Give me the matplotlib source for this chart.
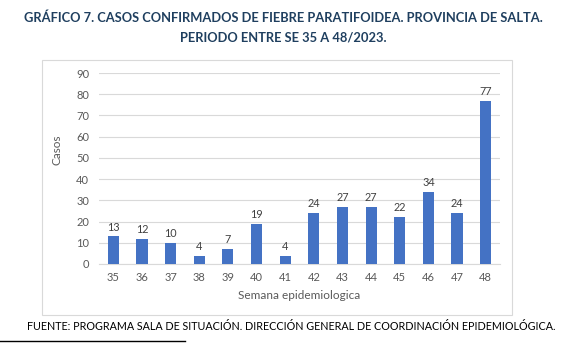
import matplotlib
matplotlib.use("Agg")
import matplotlib.pyplot as plt
from matplotlib.patches import Rectangle
from matplotlib.lines import Line2D

weeks = ["35", "36", "37", "38", "39", "40", "41", "42", "43", "44", "45", "46", "47", "48"]
cases = [13, 12, 10, 4, 7, 19, 4, 24, 27, 27, 22, 34, 24, 77]
yticks = [0, 10, 20, 30, 40, 50, 60, 70, 80, 90]

title = "GRÁFICO 7. CASOS CONFIRMADOS DE FIEBRE PARATIFOIDEA. PROVINCIA DE SALTA.\nPERIODO ENTRE SE 35 A 48/2023."
footer = "FUENTE: PROGRAMA SALA DE SITUACIÓN. DIRECCIÓN GENERAL DE COORDINACIÓN EPIDEMIOLÓGICA."

plt.rcParams['font.family'] = ['Lato', 'DejaVu Sans']

W, H = 567, 348
fig = plt.figure(figsize=(W / 100, H / 100), dpi=100)

def fx(x):
    return x / W

def fy(y):
    return 1 - y / H

# chart box
fig.patches.append(Rectangle((fx(42), fy(315)), fx(512) - fx(42), fy(60) - fy(315),
                             transform=fig.transFigure, fill=False, edgecolor='#D9D9D9', linewidth=0.8))

ax = fig.add_axes([fx(99), fy(264), fx(500) - fx(99), fy(73) - fy(264)])
x = list(range(len(weeks)))
bars = ax.bar(x, cases, width=0.39, color='#4472C4', zorder=3)
for xi, v in zip(x, cases):
    ax.text(xi, v + 1.8, str(v), ha='center', va='bottom', fontsize=7.8, color='#404040')

ax.set_xlim(-0.5, len(weeks) - 0.5)
ax.set_ylim(0, 90)
ax.set_yticks(yticks)
ax.set_xticks(x)
ax.set_xticklabels(weeks)
ax.grid(axis='y', color='#D9D9D9', linewidth=0.8, zorder=0)
for s in ax.spines.values():
    s.set_visible(False)
ax.spines['bottom'].set_visible(True)
ax.spines['bottom'].set_color('#D9D9D9')
ax.tick_params(axis='both', length=0, labelsize=8, labelcolor='#595959')
ax.tick_params(axis='x', pad=6)
ax.tick_params(axis='y', pad=7)
ax.set_xlabel("Semana epidemiologica", fontsize=8.5, color='#595959', labelpad=5)
ax.set_ylabel("Casos", fontsize=8.5, color='#595959')
ax.yaxis.set_label_coords(-0.092, 0.6)

fig.text(0.5, fy(27), title, ha='center', va='center', fontsize=9.3, fontweight='bold',
         color='#1F3F5F', linespacing=1.75)
fig.text(fx(291), fy(326), footer, ha='center', va='center', fontsize=7.75, color='#000000')

fig.lines.append(Line2D([0, fx(185)], [fy(341), fy(341)], transform=fig.transFigure,
                        color='#000000', linewidth=1.0))

fig.savefig("out.png", dpi=100)
